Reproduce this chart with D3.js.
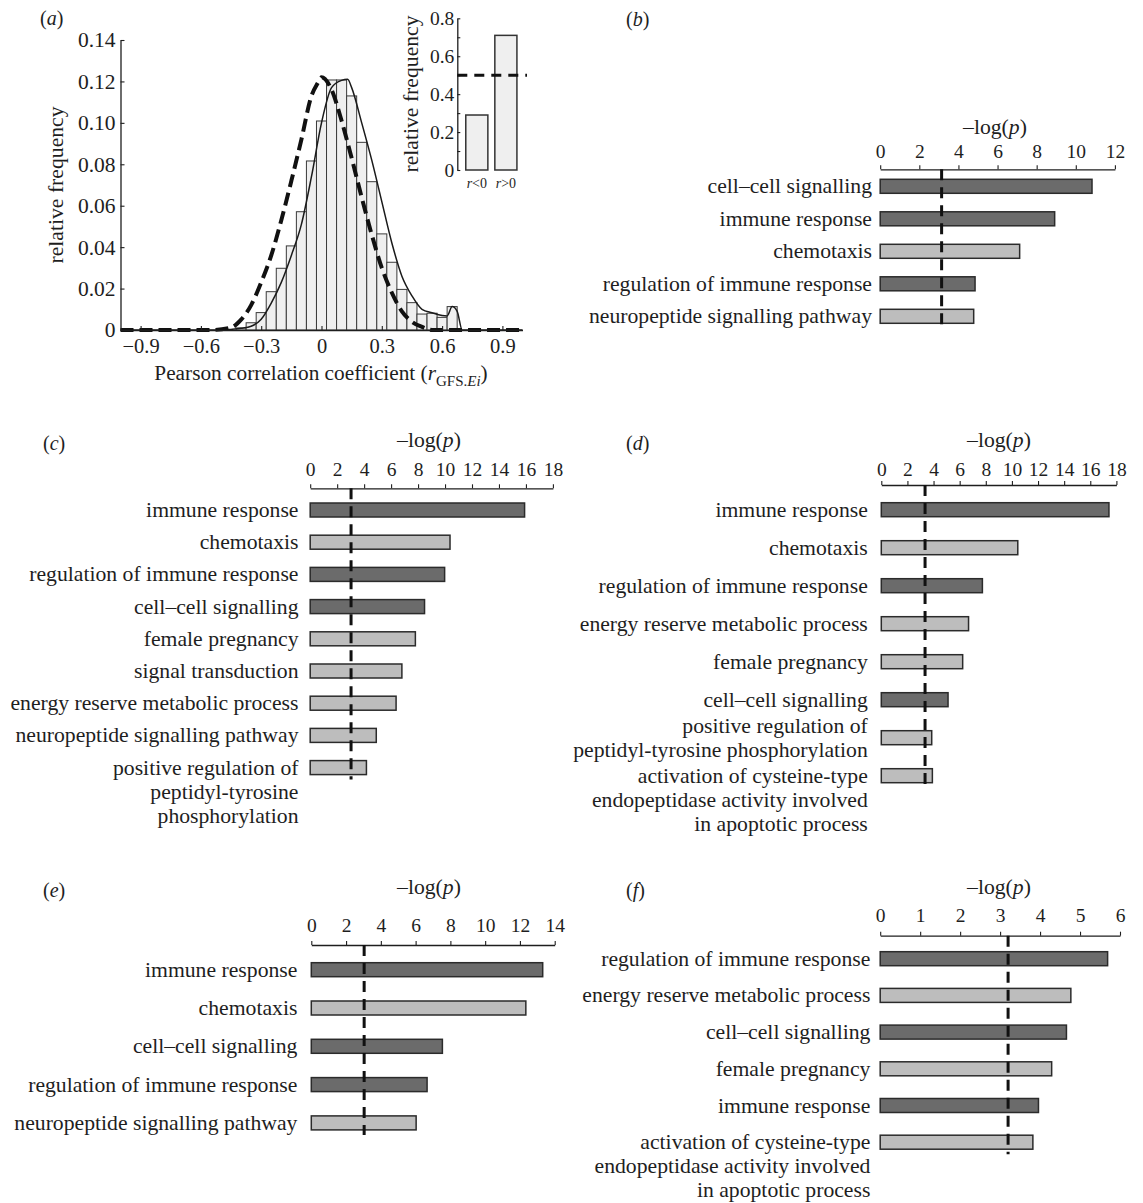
<!DOCTYPE html>
<html>
<head>
<meta charset="utf-8">
<script src="https://cdn.jsdelivr.net/npm/d3@7"></script>
<style>
  body { margin: 0; background: #fff; }
  svg { font-family: "Liberation Serif", "Times New Roman", serif; }
</style>
</head>
<body>
<script>
// ---- panel (a): histogram of r values ----
const binCenters = [-0.40, -0.35, -0.30, -0.25, -0.20, -0.15, -0.10, -0.05, 0.00, 0.05, 0.10,
  0.15, 0.20, 0.25, 0.30, 0.35, 0.40, 0.45, 0.50, 0.55, 0.60, 0.65];
const binFreq = [0.001, 0.0035, 0.0084, 0.0185, 0.0298, 0.0406, 0.0571, 0.0816, 0.1009, 0.1207, 0.1207,
  0.113, 0.0906, 0.0716, 0.0464, 0.0327, 0.0196, 0.0132, 0.0077, 0.0081, 0.0061, 0.0113];

// smoothed observed distribution (solid)
const obsX = [-1, -0.5, -0.45, -0.40, -0.35, -0.30, -0.25, -0.20, -0.15, -0.10, -0.05, 0.00, 0.05, 0.10,
  0.13, 0.15, 0.20, 0.25, 0.30, 0.35, 0.40, 0.45, 0.50, 0.55, 0.60, 0.625, 0.65, 0.675, 0.70, 1];
const obsY = [0, 0, 0.0003, 0.0008, 0.0018, 0.0052, 0.013, 0.023, 0.036, 0.051, 0.074, 0.100, 0.117, 0.1205,
  0.121, 0.117, 0.100, 0.082, 0.062, 0.042, 0.026, 0.0165, 0.010, 0.0083, 0.007, 0.0068, 0.0113, 0.009, 0, 0];

// null distribution (dashed)
const nullX = [-1, -0.55, -0.45, -0.40, -0.35, -0.30, -0.25, -0.20, -0.15, -0.10, -0.05, -0.02, 0.00,
  0.05, 0.10, 0.15, 0.20, 0.25, 0.30, 0.35, 0.40, 0.45, 0.50, 0.55, 1];
const nullY = [0, 0, 0.0012, 0.005, 0.012, 0.023, 0.036, 0.053, 0.072, 0.092, 0.113, 0.119, 0.122,
  0.116, 0.101, 0.083, 0.064, 0.046, 0.030, 0.018, 0.009, 0.004, 0.0015, 0, 0];

const xTicksA = [-0.9, -0.6, -0.3, 0, 0.3, 0.6, 0.9];
const yTicksA = [0, 0.02, 0.04, 0.06, 0.08, 0.10, 0.12, 0.14];

// inset
const signGroups = ['<0', '>0'];
const signFreq = [0.29, 0.71];
const insetTicks = [0, 0.1, 0.2, 0.3, 0.4, 0.5, 0.6, 0.7, 0.8];

// ---- panels (b)-(f): GO enrichment, -log(p) ----
const darkTerms = ['immune response', 'regulation of immune response', 'cell\u2013cell signalling'];

const termsB = ['cell\u2013cell signalling', 'immune response', 'chemotaxis',
  'regulation of immune response', 'neuropeptide signalling pathway'];
const valuesB = [10.83, 8.92, 7.13, 4.85, 4.78];
const ticksB = [0, 2, 4, 6, 8, 10, 12];
const cutB = 3.14;

const termsC = ['immune response', 'chemotaxis', 'regulation of immune response', 'cell\u2013cell signalling',
  'female pregnancy', 'signal transduction', 'energy reserve metabolic process',
  'neuropeptide signalling pathway', 'positive regulation of\npeptidyl-tyrosine\nphosphorylation'];
const valuesC = [15.9, 10.37, 9.97, 8.48, 7.8, 6.8, 6.37, 4.9, 4.17];
const ticksC = [0, 2, 4, 6, 8, 10, 12, 14, 16, 18];
const cutC = 3.03;

const termsD = ['immune response', 'chemotaxis', 'regulation of immune response',
  'energy reserve metabolic process', 'female pregnancy', 'cell\u2013cell signalling',
  'positive regulation of\npeptidyl-tyrosine phosphorylation',
  'activation of cysteine-type\nendopeptidase activity involved\nin apoptotic process'];
const valuesD = [17.43, 10.45, 7.74, 6.68, 6.23, 5.11, 3.86, 3.91];
const ticksD = [0, 2, 4, 6, 8, 10, 12, 14, 16, 18];
const cutD = 3.35;

const termsE = ['immune response', 'chemotaxis', 'cell\u2013cell signalling',
  'regulation of immune response', 'neuropeptide signalling pathway'];
const valuesE = [13.31, 12.34, 7.54, 6.66, 6.03];
const ticksE = [0, 2, 4, 6, 8, 10, 12, 14];
const cutE = 3.04;

const termsF = ['regulation of immune response', 'energy reserve metabolic process', 'cell\u2013cell signalling',
  'female pregnancy', 'immune response',
  'activation of cysteine-type\nendopeptidase activity involved\nin apoptotic process'];
const valuesF = [5.69, 4.77, 4.66, 4.29, 3.96, 3.82];
const ticksF = [0, 1, 2, 3, 4, 5, 6];
const cutF = 3.2;

// ---- drawing ----
const width = 1143;
const height = 1203;
const ink = '#1e1e1e';
const labelSize = 21.7;

const svg = d3.select('body').append('svg')
  .attr('width', width)
  .attr('height', height);

const letter = (x, y, l) => {
  const t = svg.append('text').attr('x', x).attr('y', y).attr('font-size', 20).attr('fill', ink);
  t.append('tspan').text('(');
  t.append('tspan').attr('font-style', 'italic').text(l);
  t.append('tspan').text(')');
};

const styleAxis = (g, size) => {
  g.attr('font-family', null).attr('font-size', size).attr('color', ink);
  g.select('.domain').attr('stroke-width', 1.3);
  g.selectAll('.tick line').attr('stroke-width', 1.1);
};

const fmtDash = (s) => s.replace('-', '\u2013');

// panel (a)
const xA = d3.scaleLinear().domain([-1, 1]).range([120.5, 522.5]);
const yA = d3.scaleLinear().domain([0, 0.14]).range([330, 40]);
const binW = 0.05;

svg.append('g')
  .selectAll('rect')
  .data(binCenters)
  .join('rect')
  .attr('x', (d) => xA(d - binW / 2))
  .attr('width', xA(binW) - xA(0))
  .attr('y', (d, i) => yA(binFreq[i]))
  .attr('height', (d, i) => yA(0) - yA(binFreq[i]))
  .attr('fill', '#efefef')
  .attr('stroke', '#3a3a3a')
  .attr('stroke-width', 1);

const lineA = d3.line()
  .x((d) => xA(d[0]))
  .y((d) => yA(d[1]))
  .curve(d3.curveMonotoneX);

svg.append('path')
  .datum(d3.zip(obsX, obsY))
  .attr('d', lineA)
  .attr('fill', 'none')
  .attr('stroke', '#1a1a1a')
  .attr('stroke-width', 1.5);

svg.append('path')
  .datum(d3.zip(nullX, nullY))
  .attr('d', lineA)
  .attr('fill', 'none')
  .attr('stroke', '#111')
  .attr('stroke-width', 4)
  .attr('stroke-dasharray', '13,6');

const gxA = svg.append('g')
  .attr('transform', `translate(0,${yA(0)})`)
  .call(d3.axisBottom(xA).tickValues(xTicksA).tickSizeInner(-4).tickSizeOuter(0).tickPadding(8)
    .tickFormat((d) => (d === 0 ? '0' : fmtDash(d3.format('.1f')(d)))));
styleAxis(gxA, 20.5);

const gyA = svg.append('g')
  .attr('transform', `translate(${xA(-1)},0)`)
  .call(d3.axisLeft(yA).tickValues(yTicksA).tickSizeInner(-4).tickSizeOuter(0).tickPadding(5)
    .tickFormat((d) => (d === 0 ? '0' : d3.format('.2f')(d))));
styleAxis(gyA, 21.5);

svg.append('text')
  .attr('transform', 'translate(63,185) rotate(-90)')
  .attr('text-anchor', 'middle')
  .attr('font-size', labelSize)
  .attr('fill', ink)
  .text('relative frequency');

const xt = svg.append('text')
  .attr('x', 321).attr('y', 380)
  .attr('text-anchor', 'middle')
  .attr('font-size', 21.3)
  .attr('fill', ink);
xt.append('tspan').text('Pearson correlation coefficient (');
xt.append('tspan').attr('font-style', 'italic').text('r');
xt.append('tspan').attr('font-size', 15).attr('dy', 6).text('GFS.');
xt.append('tspan').attr('font-size', 15).attr('font-style', 'italic').text('Ei');
xt.append('tspan').attr('dy', -6).text(')');

letter(40, 25, 'a');

// inset
const xIn = d3.scaleBand().domain(signGroups).range([462, 520.7]).paddingInner(0.24).paddingOuter(0.13);
const yIn = d3.scaleLinear().domain([0, 0.8]).range([170, 18.3]);

svg.append('g')
  .selectAll('rect')
  .data(signGroups)
  .join('rect')
  .attr('x', (d) => xIn(d))
  .attr('width', xIn.bandwidth())
  .attr('y', (d, i) => yIn(signFreq[i]))
  .attr('height', (d, i) => yIn(0) - yIn(signFreq[i]))
  .attr('fill', '#efefef')
  .attr('stroke', '#333')
  .attr('stroke-width', 1.5);

const gIn = svg.append('g')
  .attr('transform', 'translate(457.3,0)')
  .call(d3.axisLeft(yIn).tickValues(insetTicks).tickSizeInner(-3).tickSizeOuter(0).tickPadding(3)
    .tickFormat((d, i) => (i % 2 ? '' : (d === 0 ? '0' : d3.format('.1f')(d)))));
styleAxis(gIn, 19.5);

svg.append('line')
  .attr('x1', 457.3).attr('x2', 527)
  .attr('y1', yIn(0.5)).attr('y2', yIn(0.5))
  .attr('stroke', '#111')
  .attr('stroke-width', 3)
  .attr('stroke-dasharray', '10,7');

svg.append('g')
  .selectAll('text')
  .data(signGroups)
  .join('text')
  .attr('x', (d) => xIn(d) + xIn.bandwidth() / 2)
  .attr('y', 188)
  .attr('text-anchor', 'middle')
  .attr('font-size', 14)
  .attr('fill', ink)
  .each(function addLabel(d) {
    d3.select(this).append('tspan').attr('font-style', 'italic').text('r');
    d3.select(this).append('tspan').text(d);
  });

svg.append('text')
  .attr('transform', 'translate(418,94) rotate(-90)')
  .attr('text-anchor', 'middle')
  .attr('font-size', labelSize)
  .attr('fill', ink)
  .text('relative frequency');

// GO bar panels
const drawGO = (p, terms, values, ticks, cut) => {
  const x = d3.scaleLinear().domain([0, ticks[ticks.length - 1]]).range([p.x0, p.x1]);
  const y = d3.scalePoint().domain(terms).range([p.first, p.first + p.step * (terms.length - 1)]);
  const barH = 14;

  const gx = svg.append('g')
    .attr('transform', `translate(0,${p.axisY})`)
    .call(d3.axisTop(x).tickValues(ticks).tickSizeInner(4).tickSizeOuter(0).tickPadding(p.tickGap - 4)
      .tickFormat(d3.format('d')));
  styleAxis(gx, 19.5);

  const title = svg.append('text')
    .attr('x', p.titleX).attr('y', p.titleY + 7)
    .attr('text-anchor', 'middle')
    .attr('font-size', labelSize)
    .attr('fill', ink);
  title.append('tspan').text('\u2013log(');
  title.append('tspan').attr('font-style', 'italic').text('p');
  title.append('tspan').text(')');

  svg.append('g')
    .selectAll('rect')
    .data(terms)
    .join('rect')
    .attr('x', x(0))
    .attr('y', (d) => y(d) - barH / 2)
    .attr('width', (d, i) => x(values[i]) - x(0))
    .attr('height', barH)
    .attr('fill', (d) => (darkTerms.includes(d) ? '#6b6b6b' : '#bdbdbd'))
    .attr('stroke', '#2b2b2b')
    .attr('stroke-width', 1.5);

  svg.append('g')
    .selectAll('text')
    .data(terms)
    .join('text')
    .attr('text-anchor', 'end')
    .attr('font-size', labelSize)
    .attr('fill', ink)
    .each(function addLines(d) {
      const lines = d.split('\n');
      const start = lines.length === 2 ? -0.5 : 0;
      lines.forEach((line, k) => {
        d3.select(this).append('tspan')
          .attr('x', p.labelX)
          .attr('y', y(d) + (start + k) * 24 + 7)
          .text(line);
      });
    });

  svg.append('line')
    .attr('x1', x(cut)).attr('x2', x(cut))
    .attr('y1', p.axisY)
    .attr('y2', y(terms[terms.length - 1]) + barH / 2 + 5)
    .attr('stroke', '#111')
    .attr('stroke-width', 3)
    .attr('stroke-dasharray', '11,7');

  letter(p.letterX, p.letterY, p.letter);
};

drawGO({ letter: 'b', letterX: 626, letterY: 26, x0: 880.2, x1: 1114.9, axisY: 169.3, tickGap: 11,
  titleX: 995, titleY: 126.7, labelX: 872, first: 186.3, step: 32.5 }, termsB, valuesB, ticksB, cutB);
drawGO({ letter: 'c', letterX: 43, letterY: 450, x0: 310.2, x1: 552.9, axisY: 488.3, tickGap: 12,
  titleX: 429, titleY: 440, labelX: 298.5, first: 510, step: 32.2 }, termsC, valuesC, ticksC, cutC);
drawGO({ letter: 'd', letterX: 626, letterY: 450, x0: 881.3, x1: 1116.4, axisY: 485, tickGap: 9,
  titleX: 999, titleY: 440, labelX: 867.8, first: 509.7, step: 38 }, termsD, valuesD, ticksD, cutD);
drawGO({ letter: 'e', letterX: 43, letterY: 897, x0: 311.3, x1: 554.7, axisY: 945, tickGap: 13,
  titleX: 429, titleY: 886.7, labelX: 297.4, first: 969.7, step: 38.3 }, termsE, valuesE, ticksE, cutE);
drawGO({ letter: 'f', letterX: 626, letterY: 897, x0: 880.2, x1: 1120, axisY: 935.7, tickGap: 14,
  titleX: 999, titleY: 886.7, labelX: 870.4, first: 958.7, step: 36.7 }, termsF, valuesF, ticksF, cutF);
</script>
</body>
</html>
